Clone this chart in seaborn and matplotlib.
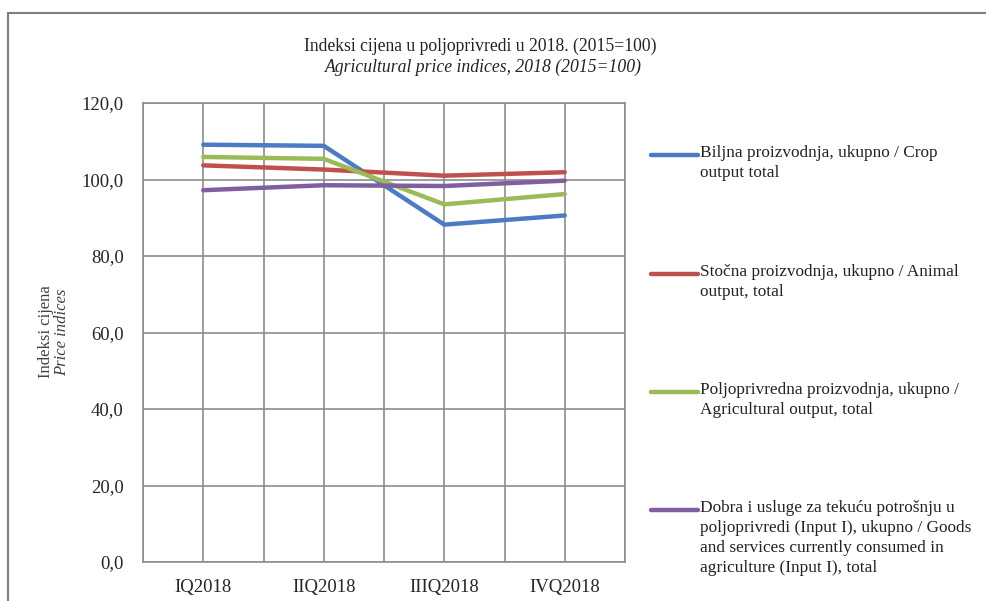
import pandas as pd
import numpy as np
import seaborn as sns
import matplotlib.pyplot as plt
from matplotlib.lines import Line2D
from matplotlib.patches import Rectangle

# Data
quarters = ['IQ2018', 'IIQ2018', 'IIIQ2018', 'IVQ2018']
crop = [109.1, 108.8, 88.2, 90.6]
animal = [103.7, 102.6, 101.0, 101.9]
agri = [105.9, 105.4, 93.5, 96.2]
inputs = [97.2, 98.5, 98.3, 99.7]

labels = ['Biljna proizvodnja, ukupno / Crop\noutput total',
          'Stočna proizvodnja, ukupno / Animal\noutput, total',
          'Poljoprivredna proizvodnja, ukupno /\nAgricultural output, total',
          'Dobra i usluge za tekuću potrošnju u\npoljoprivredi (Input I), ukupno / Goods\n'
          'and services currently consumed in\nagriculture (Input I), total']
colors = ['#4a7bc4', '#c0504d', '#9bbb59', '#7f5fa0']

# long form table for seaborn
df = pd.DataFrame({
    'quarter': quarters * 4,
    'value': crop + animal + agri + inputs,
    'series': np.repeat(labels, len(quarters)),
})

sns.set_style('white')
plt.rcParams['font.family'] = ['Liberation Serif', 'DejaVu Serif']

W, H = 986, 601
fig = plt.figure(figsize=(W / 100, H / 100), dpi=100)
ax = fig.add_axes([143 / W, 1 - 562 / H, (625 - 143) / W, (562 - 103) / H])

sns.lineplot(data=df, x='quarter', y='value', hue='series', palette=colors,
             sort=False, linewidth=3.2, ax=ax, legend=False)

ax.set_xlim(-0.5, 3.5)
ax.set_ylim(0, 120)
ax.set_yticks(np.arange(0, 121, 20))
ax.set_yticklabels([f'{v:.1f}'.replace('.', ',') for v in np.arange(0, 121, 20)])
ax.set_xticks(range(len(quarters)))
ax.set_xticklabels(quarters)
ax.set_xticks(np.arange(-0.5, 3.6, 1.0), minor=True)
ax.grid(True, which='major', axis='y', color='#8c8c8c', lw=1.2)
ax.grid(True, which='both', axis='x', color='#8c8c8c', lw=1.2)
ax.set_axisbelow(True)
for s in ax.spines.values():
    s.set_color('#8c8c8c')
    s.set_linewidth(1.2)
ax.tick_params(axis='y', which='major', length=4, color='#8c8c8c', labelsize=13.5, pad=10)
ax.tick_params(axis='x', which='both', length=0, labelsize=13.5, pad=12)
ax.set_xlabel('')
ax.set_ylabel('')

# y axis label (two lines, second italic)
fig.text(46 / W, 1 - 332 / H, 'Indeksi cijena', rotation=90, ha='center', va='center',
         fontsize=12, color='#404040')
fig.text(62 / W, 1 - 332 / H, 'Price indices', rotation=90, ha='center', va='center',
         fontsize=12, style='italic', color='#404040')

# title
fig.text(0.487, 1 - 46 / H, 'Indeksi cijena u poljoprivredi u 2018. (2015=100)',
         ha='center', va='center', fontsize=12.7, color='#222222')
fig.text(0.49, 1 - 67 / H, 'Agricultural price indices, 2018 (2015=100)',
         ha='center', va='center', fontsize=12.7, style='italic', color='#222222')

# legend on the right
leg_y = [155, 274, 392, 510]
for lab, col, y in zip(labels, colors, leg_y):
    fig.add_artist(Line2D([651 / W, 698 / W], [1 - y / H, 1 - y / H], color=col, lw=3.2,
                          transform=fig.transFigure))
    fig.text(700 / W, 1 - (y - 10) / H, lab, ha='left', va='top', fontsize=12.4,
             linespacing=1.32, color='#222222')

# outer chart frame
fig.add_artist(Rectangle((8 / W, -0.1), 1.2, 1 - 13 / H + 0.1, fill=False,
                         edgecolor='#7f7f7f', lw=1.5, transform=fig.transFigure))

fig.savefig('out.png', dpi=100)
